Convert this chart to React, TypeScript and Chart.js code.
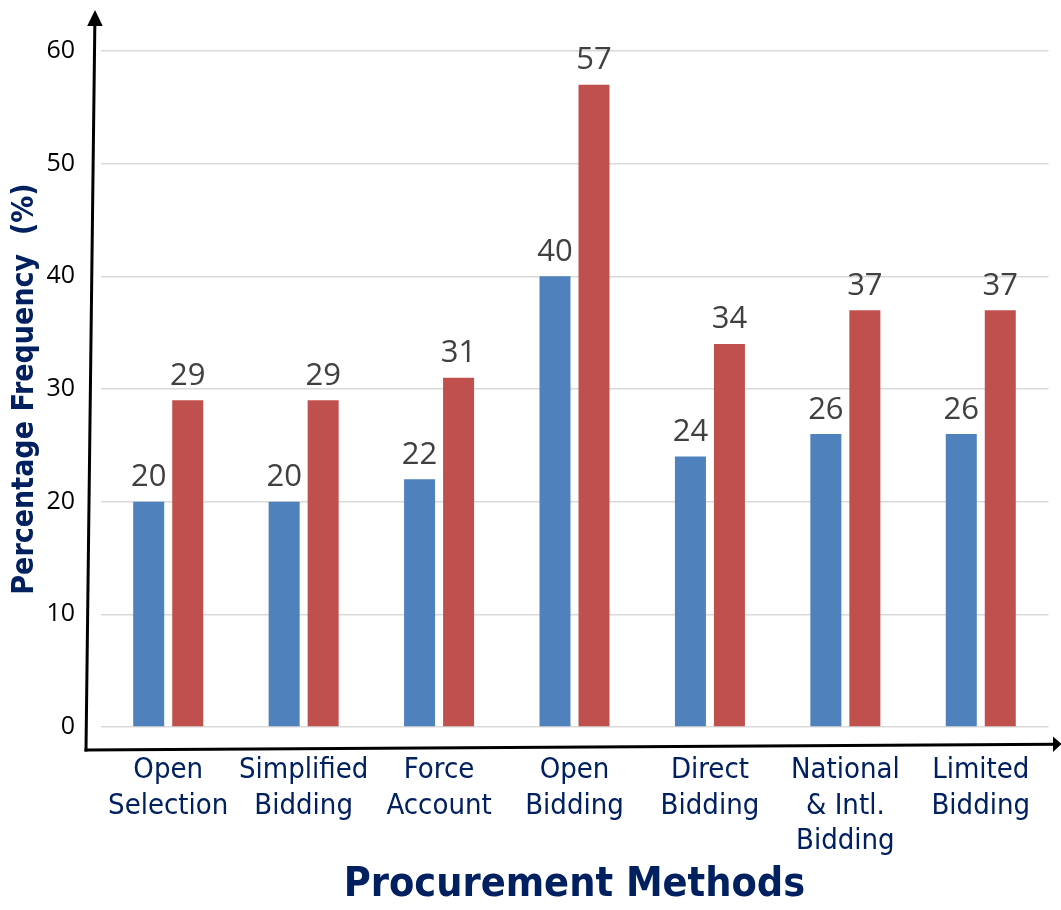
import React, { useEffect, useRef } from "react";
import { Chart, registerables } from "chart.js";

Chart.register(...registerables);

const categories: string[][] = [
  ["Open", "Selection"],
  ["Simplified", "Bidding"],
  ["Force", "Account"],
  ["Open", "Bidding"],
  ["Direct", "Bidding"],
  ["National", "& Intl.", "Bidding"],
  ["Limited", "Bidding"],
];

const seriesBlue: number[] = [20, 20, 22, 40, 24, 26, 26];
const seriesRed: number[] = [29, 29, 31, 57, 34, 37, 37];

const yTicks: number[] = [0, 10, 20, 30, 40, 50, 60];

const NAVY = "#002060";
const LABEL_FONT = "'DejaVu Sans Condensed', 'DejaVu Sans', sans-serif";
const NUM_FONT = "'Open Sans', 'Noto Sans', sans-serif";

// Value labels above every bar
const valueLabels = {
  id: "valueLabels",
  afterDatasetsDraw(chart: any) {
    const { ctx } = chart;
    ctx.save();
    ctx.font = `31px ${NUM_FONT}`;
    ctx.fillStyle = "#404040";
    ctx.textAlign = "center";
    ctx.textBaseline = "alphabetic";
    chart.data.datasets.forEach((ds: any, i: number) => {
      const meta = chart.getDatasetMeta(i);
      meta.data.forEach((el: any, j: number) => {
        ctx.fillText(String(ds.data[j]), el.x, el.y - 15.5);
      });
    });
    ctx.restore();
  },
};

// Hand-drawn style axis arrows around the plot area
const axisArrows = {
  id: "axisArrows",
  afterDraw(chart: any) {
    const { ctx, chartArea } = chart;
    const { left, right, top, bottom } = chartArea;
    const ox = left - 14.5;
    const oy = bottom + 23;
    ctx.save();
    ctx.strokeStyle = "#000";
    ctx.fillStyle = "#000";
    ctx.lineWidth = 3;
    ctx.lineCap = "square";

    // vertical axis
    ctx.beginPath();
    ctx.moveTo(ox, oy);
    ctx.lineTo(left - 5.7, top - 24);
    ctx.stroke();
    ctx.beginPath();
    ctx.moveTo(left - 5.5, top - 41);
    ctx.lineTo(left - 13.3, top - 25);
    ctx.lineTo(left + 2.2, top - 25);
    ctx.closePath();
    ctx.fill();

    // horizontal axis
    ctx.beginPath();
    ctx.moveTo(ox, oy);
    ctx.lineTo(right + 6, bottom + 17.3);
    ctx.stroke();
    ctx.beginPath();
    ctx.moveTo(right + 13, bottom + 17);
    ctx.lineTo(right + 4.5, bottom + 9.5);
    ctx.lineTo(right + 4.5, bottom + 25);
    ctx.closePath();
    ctx.fill();
    ctx.restore();
  },
};

export default function App() {
  const canvasRef = useRef<HTMLCanvasElement | null>(null);

  useEffect(() => {
    const canvas = canvasRef.current;
    if (!canvas) return;
    const chart = new Chart(canvas, {
      type: "bar",
      data: {
        labels: categories,
        datasets: [
          {
            label: "Series 1",
            data: seriesBlue,
            backgroundColor: "#4F81BD",
            categoryPercentage: 0.576,
            barPercentage: 0.795,
          },
          {
            label: "Series 2",
            data: seriesRed,
            backgroundColor: "#C0504D",
            categoryPercentage: 0.576,
            barPercentage: 0.795,
          },
        ],
      },
      options: {
        animation: false,
        responsive: false,
        devicePixelRatio: 1,
        layout: { padding: { left: 0, top: 51, right: 12.5, bottom: 0 } },
        plugins: {
          legend: { display: false },
          tooltip: { enabled: false },
        },
        scales: {
          x: {
            grid: { display: false, drawTicks: false },
            border: { display: false },
            ticks: {
              color: NAVY,
              font: { family: LABEL_FONT, size: 29, lineHeight: 1.22 },
              padding: 26,
              autoSkip: false,
              maxRotation: 0,
              minRotation: 0,
            },
            title: {
              display: true,
              text: "Procurement Methods",
              color: NAVY,
              font: { family: LABEL_FONT, size: 41, weight: "bold", lineHeight: 1.2 },
              padding: { top: 0, bottom: 0 },
            },
            afterFit(scale: any) {
              scale.height = 183;
            },
          },
          y: {
            min: 0,
            max: 60,
            afterBuildTicks(scale: any) {
              scale.ticks = yTicks.map((v) => ({ value: v }));
            },
            grid: { color: "#d9d9d9", lineWidth: 1.5, drawTicks: false },
            border: { display: false },
            ticks: {
              color: "#000",
              font: { family: NUM_FONT, size: 25 },
              padding: 25.5,
            },
            title: {
              display: true,
              text: "Percentage Frequency  (%)",
              color: NAVY,
              font: { family: LABEL_FONT, size: 30, weight: "bold", lineHeight: 1.2 },
              padding: { top: 7, bottom: 0 },
            },
            afterFit(scale: any) {
              scale.width = 100.5;
            },
          },
        },
      },
      plugins: [valueLabels, axisArrows],
    });
    return () => chart.destroy();
  }, []);

  return (
    <div style={{ position: "absolute", left: 0, top: 0, width: 1061, height: 910, background: "#fff" }}>
      <canvas ref={canvasRef} width={1061} height={910} />
    </div>
  );
}
